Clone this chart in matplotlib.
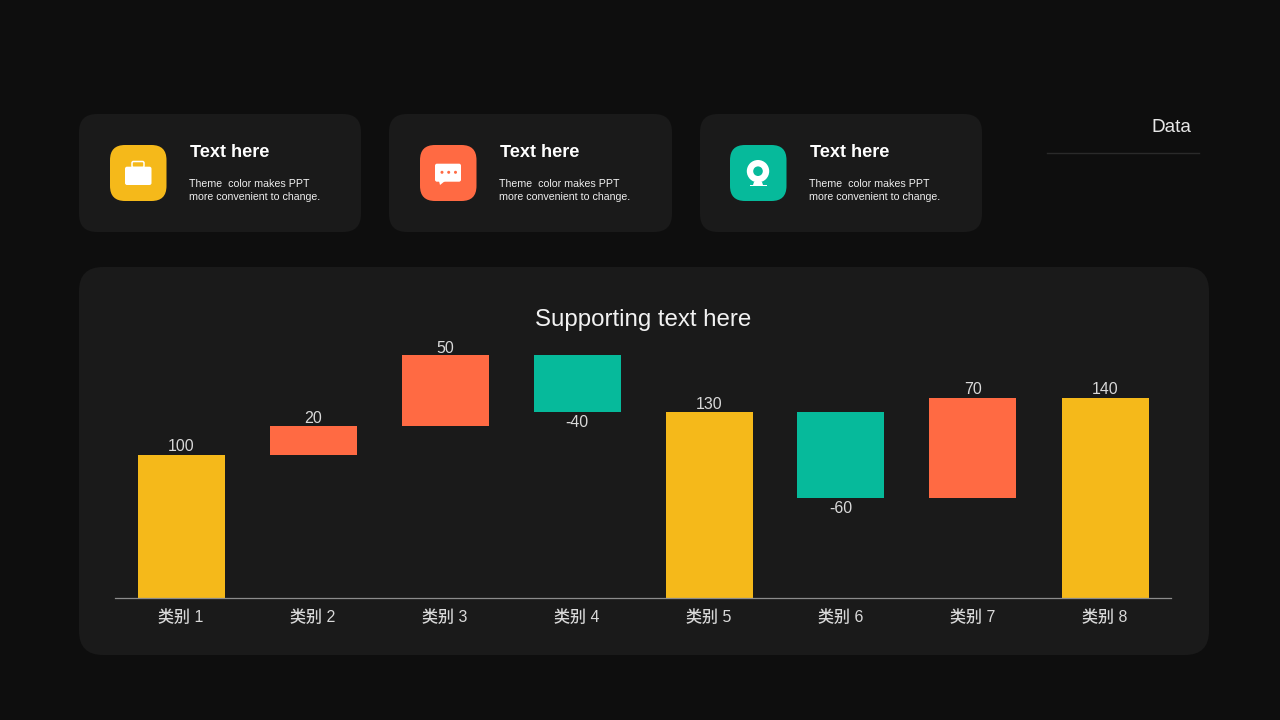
import matplotlib
matplotlib.use("Agg")
import matplotlib.pyplot as plt
from matplotlib.patches import FancyBboxPatch, Circle, Rectangle, Polygon

LATIN = "Liberation Sans"
FAMILY = ["Liberation Sans", "Noto Sans CJK SC", "DejaVu Sans"]
plt.rcParams["font.family"] = FAMILY
plt.rcParams["text.hinting"] = "no_autohint"
plt.rcParams["text.kerning_factor"] = 0

categories = ["类别 1", "类别 2", "类别 3", "类别 4", "类别 5", "类别 6", "类别 7", "类别 8"]
values = [100, 20, 50, -40, 130, -60, 70, 140]
is_total = [True, False, False, False, True, False, False, True]

card_title = "Text here"
card_body = ["Theme  color makes PPT", "more convenient to change."]
chart_title = "Supporting text here"
side_label = "Data"

BG = "#0e0e0e"
PANEL = "#1a1a1a"
YELLOW = "#f5b91a"
ORANGE = "#ff6a43"
GREEN = "#06ba9b"
W, H = 1280, 720

fig = plt.figure(figsize=(W / 100, H / 100), dpi=100, facecolor=BG)

# pixel-space layer for the slide furniture
bg = fig.add_axes([0, 0, 1, 1], zorder=0)
bg.set_xlim(0, W)
bg.set_ylim(H, 0)
bg.axis("off")


def rounded(ax, x0, y0, x1, y1, r, color, z=1):
    ax.add_patch(FancyBboxPatch((x0 + r, y0 + r), x1 - x0 - 2 * r, y1 - y0 - 2 * r,
                                boxstyle=f"round,pad={r},rounding_size={r}",
                                fc=color, ec="none", zorder=z))


rounded(bg, 79, 267, 1209, 655, 24, PANEL)
for x0, x1, icon_x0, col in [(79, 361, 110, YELLOW), (389, 672, 420, ORANGE), (700, 982, 730, GREEN)]:
    rounded(bg, x0, 114, x1, 232, 18, PANEL)
    rounded(bg, icon_x0, 145, icon_x0 + 56.5, 201, 15, col, z=2)
    bg.text(icon_x0 + 80, 152.5, card_title, color="white", fontsize=13.1, fontweight="bold",
            family=LATIN, va="center", ha="left", zorder=3)
    for yy, line in zip((184, 197), card_body):
        bg.text(icon_x0 + 79, yy, line, color="#f0f0f0", fontsize=7.7, fontweight="medium",
                family=LATIN, va="center", ha="left", zorder=3)

# briefcase icon
rounded(bg, 125, 166.7, 151.5, 185, 2, "white", z=3)
bg.add_patch(FancyBboxPatch((132, 161.5), 12, 6, boxstyle="round,pad=0,rounding_size=1.5",
                            fc="none", ec="white", lw=1.1, zorder=3))
bg.add_patch(Rectangle((125, 174.5), 26.5, 0.8, fc=YELLOW, ec="none", zorder=4))

# speech bubble icon
rounded(bg, 435, 163.7, 461, 181.7, 2, "white", z=3)
bg.add_patch(Polygon([[439, 181], [445, 181], [440, 185]], fc="white", ec="none", zorder=3))
for cx in (442, 448.7, 455.5):
    bg.add_patch(Circle((cx, 172.3), 1.5, fc=ORANGE, ec="none", zorder=4))

# webcam icon
bg.add_patch(Circle((758, 171.2), 11.2, fc="white", ec="none", zorder=3))
bg.add_patch(Circle((758, 171.2), 4.8, fc=GREEN, ec="none", zorder=4))
bg.add_patch(Polygon([[754, 182], [762, 182], [763, 185], [753, 185]], fc="white", ec="none", zorder=3))
bg.add_patch(Rectangle((750, 184.6), 17, 0.9, fc="white", ec="none", zorder=3))

# side label
bg.text(1191, 127, side_label, color="#e6e6e6", fontsize=13.6, family=LATIN,
        va="center", ha="right", zorder=3)
bg.plot([1047, 1199], [153, 153], color="#2a2a2a", lw=1, zorder=3)

# chart
ax_l, ax_r, ax_b, ax_t = 115, 1171, 598, 340.6
ax = fig.add_axes([ax_l / W, 1 - ax_b / H, (ax_r - ax_l) / W, (ax_b - ax_t) / H], zorder=2)
ax.patch.set_alpha(0)
ax.set_xlim(-0.5, len(categories) - 0.5)
ax.set_ylim(0, 180)

running = 0
for i, (v, total) in enumerate(zip(values, is_total)):
    if total:
        bottom, height, color = 0, v, YELLOW
        running = v
    else:
        bottom = running if v >= 0 else running + v
        height = abs(v)
        color = ORANGE if v >= 0 else GREEN
        running += v
    ax.bar(i, height, bottom=bottom, width=87 / 132, color=color, linewidth=0)
    if v >= 0:
        # the label of the tallest step sits tighter against its bar
        dy = -0.8 if bottom + height >= 165 else 0.4
        ax.annotate(str(v), (i, bottom + height), xytext=(0, dy), textcoords="offset points",
                    ha="center", va="bottom", color="#d9d9d9", fontsize=11.5)
    else:
        ax.annotate(str(v), (i, bottom), xytext=(0, -2), textcoords="offset points",
                    ha="center", va="top", color="#d9d9d9", fontsize=11.5)

for s in ("top", "left", "right"):
    ax.spines[s].set_visible(False)
ax.spines["bottom"].set_color("#8c8c8c")
ax.spines["bottom"].set_linewidth(0.9)
ax.set_yticks([])
ax.set_xticks(range(len(categories)), categories)
ax.tick_params(axis="x", length=0, pad=8.2, labelsize=11.5, labelcolor="#d9d9d9")

bg.text(643, 320, chart_title, color="#f2f2f2", fontsize=17.3, family=LATIN,
        ha="center", va="center", zorder=3)

fig.savefig("out.png", dpi=100, facecolor=BG)
